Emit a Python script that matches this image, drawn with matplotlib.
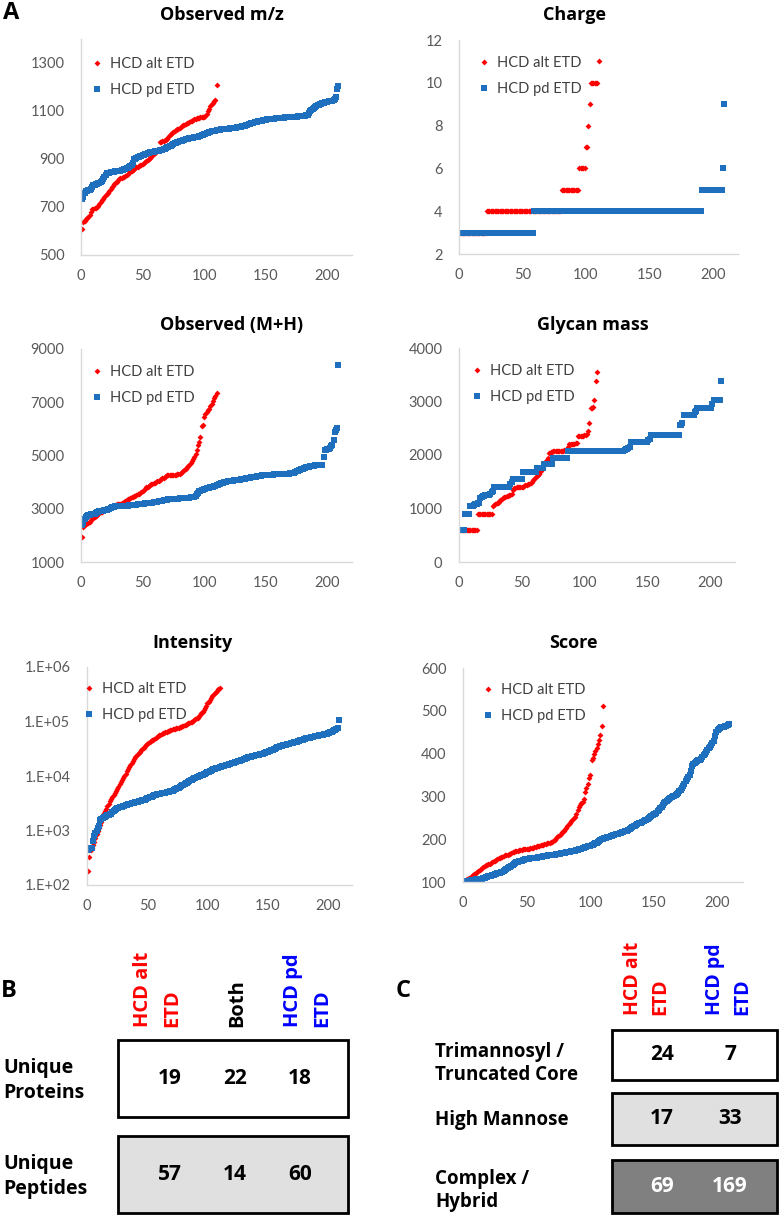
import matplotlib
matplotlib.use('Agg')
import matplotlib.pyplot as plt
import numpy as np
from matplotlib.patches import Rectangle
from matplotlib.ticker import FuncFormatter

plt.rcParams['font.family'] = ['Lato', 'DejaVu Sans']
BOLD_FONT = ['Open Sans', 'DejaVu Sans']

# ---- panel A data (sorted values, one point per identification) ----
mz_alt = [610, 638, 642, 648, 655, 660, 668, 680, 690, 693,
          695, 697, 700, 705, 712, 720, 728, 735, 740, 748,
          755, 760, 768, 775, 782, 788, 795, 800, 806, 812,
          816, 820, 822, 824, 826, 828, 832, 836, 842, 848,
          852, 855, 858, 862, 865, 868, 870, 873, 876, 880,
          884, 888, 892, 896, 900, 905, 910, 915, 920, 925,
          930, 936, 940, 970, 972, 974, 976, 978, 980, 985,
          993, 1000, 1005, 1010, 1014, 1018, 1021, 1024, 1027, 1030,
          1034, 1037, 1040, 1043, 1046, 1049, 1052, 1055, 1058, 1060,
          1063, 1066, 1068, 1070, 1071, 1072, 1073, 1074, 1075, 1076,
          1080, 1088, 1098, 1110, 1120, 1128, 1135, 1140, 1145, 1210]
mz_pd = [735, 742, 760, 765, 768, 770, 772, 775, 785, 790,
         792, 794, 796, 800, 802, 805, 808, 815, 825, 835,
         840, 842, 843, 844, 845, 846, 847, 848, 849, 850,
         851, 852, 853, 855, 857, 860, 862, 864, 867, 870,
         875, 882, 900, 902, 905, 907, 909, 911, 913, 916,
         918, 920, 922, 924, 926, 928, 929, 930, 931, 932,
         933, 934, 935, 936, 937, 938, 940, 942, 945, 948,
         950, 953, 956, 959, 962, 965, 967, 969, 971, 973,
         975, 977, 979, 981, 983, 984, 985, 986, 987, 988,
         989, 990, 991, 992, 993, 995, 997, 999, 1001, 1003,
         1005, 1007, 1009, 1011, 1013, 1015, 1016, 1017, 1018, 1019,
         1020, 1021, 1022, 1023, 1024, 1025, 1026, 1026, 1027, 1027,
         1028, 1028, 1029, 1029, 1030, 1031, 1032, 1033, 1034, 1035,
         1036, 1037, 1038, 1040, 1042, 1044, 1046, 1048, 1050, 1051,
         1053, 1054, 1056, 1057, 1058, 1059, 1060, 1062, 1063, 1064,
         1065, 1066, 1066, 1067, 1067, 1068, 1068, 1069, 1069, 1070,
         1070, 1071, 1071, 1072, 1072, 1073, 1073, 1074, 1074, 1075,
         1075, 1076, 1076, 1077, 1077, 1078, 1078, 1079, 1079, 1080,
         1080, 1081, 1082, 1083, 1092, 1098, 1104, 1108, 1112, 1116,
         1120, 1123, 1126, 1128, 1130, 1132, 1134, 1136, 1138, 1139,
         1140, 1141, 1142, 1143, 1144, 1148, 1160, 1190, 1205]

charge_alt = [3] * 21 + [4] * 59 + [5] * 14 + [6] * 5 + [7] * 2 + [8] + [9] + [10] * 6 + [11]
charge_pd = [3] * 58 + [4] * 133 + [5] * 16 + [6] + [9]

mh_alt = [1930, 2320, 2380, 2420, 2450, 2480, 2520, 2560, 2600, 2650,
          2700, 2730, 2760, 2800, 2830, 2860, 2890, 2920, 2950, 2980,
          3000, 3020, 3040, 3060, 3080, 3100, 3120, 3140, 3160, 3170,
          3180, 3190, 3200, 3230, 3260, 3290, 3320, 3350, 3380, 3410,
          3430, 3450, 3470, 3490, 3510, 3540, 3570, 3600, 3640, 3680,
          3720, 3760, 3800, 3830, 3860, 3890, 3920, 3940, 3960, 3980,
          4000, 4030, 4060, 4090, 4110, 4140, 4170, 4200, 4230, 4250,
          4260, 4270, 4270, 4270, 4270, 4270, 4280, 4290, 4300, 4320,
          4350, 4390, 4430, 4470, 4510, 4560, 4610, 4660, 4720, 4800,
          4880, 4960, 5060, 5200, 5400, 5500, 5700, 6100, 6150, 6450,
          6550, 6650, 6700, 6750, 6850, 6950, 7050, 7150, 7250, 7350]
mh_pd = [2400, 2450, 2600, 2700, 2730, 2760, 2780, 2790, 2800, 2810,
         2820, 2840, 2860, 2880, 2900, 2910, 2920, 2930, 2940, 2950,
         2960, 2980, 3000, 3030, 3060, 3070, 3080, 3090, 3095, 3100,
         3100, 3105, 3105, 3110, 3110, 3115, 3115, 3120, 3125, 3130,
         3135, 3140, 3145, 3150, 3155, 3160, 3165, 3170, 3175, 3180,
         3190, 3200, 3205, 3210, 3215, 3220, 3225, 3230, 3240, 3250,
         3260, 3270, 3280, 3290, 3300, 3300, 3310, 3320, 3330, 3340,
         3350, 3360, 3365, 3370, 3370, 3375, 3375, 3380, 3380, 3385,
         3385, 3390, 3390, 3395, 3400, 3400, 3410, 3420, 3430, 3440,
         3450, 3460, 3480, 3550, 3600, 3650, 3680, 3700, 3720, 3740,
         3760, 3770, 3780, 3790, 3800, 3810, 3820, 3840, 3860, 3880,
         3900, 3920, 3940, 3960, 3980, 4000, 4010, 4020, 4030, 4040,
         4050, 4055, 4060, 4065, 4070, 4075, 4080, 4085, 4095, 4105,
         4110, 4120, 4130, 4140, 4150, 4160, 4170, 4180, 4190, 4200,
         4205, 4210, 4215, 4220, 4230, 4240, 4250, 4255, 4260, 4265,
         4270, 4275, 4280, 4282, 4284, 4286, 4288, 4290, 4292, 4295,
         4297, 4300, 4302, 4304, 4306, 4308, 4310, 4315, 4320, 4330,
         4340, 4350, 4360, 4380, 4400, 4420, 4440, 4460, 4480, 4500,
         4520, 4540, 4560, 4570, 4580, 4590, 4600, 4610, 4620, 4630,
         4640, 4645, 4650, 4650, 4655, 4660, 4950, 5200, 5220, 5240,
         5260, 5300, 5340, 5380, 5600, 5900, 5950, 6050, 8400]

glycan_alt = ([590] * 14 + [900] * 12 + [1050, 1060, 1090]
              + [1100, 1110, 1120, 1150, 1180]
              + [1200, 1210, 1220, 1230, 1240, 1250, 1260, 1280]
              + [1350, 1380, 1390, 1400, 1400, 1400, 1400, 1400, 1410, 1420, 1430, 1440, 1450]
              + [1460, 1480, 1500, 1530, 1560, 1580]
              + [1600, 1620, 1650, 1700, 1750, 1800]
              + [1850, 1880, 1900, 1950]
              + [2030, 2050, 2060, 2070] + [2080] * 8 + [2090, 2090, 2100]
              + [2150, 2200, 2210, 2210, 2210, 2210, 2220, 2230]
              + [2350, 2360, 2360, 2360, 2360, 2370, 2380, 2400]
              + [2450, 2600, 2870, 2880, 2890, 3030, 3390, 3550])
glycan_pd = ([590] * 4 + [900] * 4
             + [1050, 1050, 1050, 1060, 1080, 1080, 1100, 1100]
             + [1200, 1220, 1230, 1240, 1250, 1250, 1250, 1260, 1280, 1300, 1320]
             + [1400] * 13 + [1450, 1500] + [1550] * 8 + [1690] * 11
             + [1750] * 6 + [1840] * 7 + [1940] * 12 + [2080] * 45
             + [2100, 2110, 2120, 2130, 2150] + [2240] * 14 + [2280, 2300]
             + [2370] * 23 + [2560, 2560, 2600] + [2750] * 9 + [2800, 2820]
             + [2880] * 12 + [2950] + [3030] * 6 + [3390])

intensity_alt = [180, 330, 430, 480, 540, 620, 720, 850, 980, 1100,
                 1250, 1450, 1700, 2100, 2300, 2500, 2800, 3100, 3500, 3800,
                 4100, 4400, 4800, 5200, 5800, 6400, 7000, 7700, 8400, 9100,
                 10000, 11000, 12200, 13500, 14800, 16000, 17500, 19000, 20500, 22000,
                 23500, 25000, 26500, 28000, 29500, 31000, 33000, 35000, 37000, 39000,
                 40500, 42000, 43500, 45000, 46500, 48000, 50000, 52000, 54000, 56000,
                 57500, 59000, 60500, 62000, 63500, 65000, 66500, 68000, 69500, 71000,
                 72000, 73000, 74000, 75000, 76000, 77000, 78500, 80000, 82000, 84000,
                 86000, 88000, 90000, 92000, 94000, 96000, 99000, 102000, 106000, 110000,
                 114000, 118000, 125000, 133000, 142000, 152000, 165000, 180000, 195000, 215000,
                 232000, 250000, 270000, 290000, 310000, 330000, 350000, 370000, 390000, 410000]
intensity_pd = [430, 450, 470, 480, 650, 800, 900, 1000, 1100, 1200,
                1550, 1650, 1700, 1750, 1800, 1850, 1900, 1950, 2000, 2050,
                2150, 2250, 2350, 2450, 2550, 2600, 2650, 2700, 2750, 2800,
                2850, 2900, 2950, 3000, 3050, 3100, 3150, 3200, 3250, 3300,
                3350, 3400, 3450, 3500, 3550, 3600, 3650, 3700, 3800, 3900,
                4000, 4100, 4150, 4200, 4300, 4400, 4500, 4600, 4650, 4700,
                4750, 4800, 4850, 4900, 4950, 5000, 5050, 5100, 5200, 5300,
                5400, 5550, 5700, 5850, 6000, 6150, 6300, 6500, 6700, 6900,
                7100, 7300, 7550, 7800, 8050, 8300, 8550, 8800, 9000, 9250,
                9500, 9700, 9900, 10100, 10300, 10500, 10800, 11100, 11400, 11700,
                12000, 12300, 12600, 13000, 13250, 13500, 13750, 14000, 14250, 14500,
                14750, 15000, 15200, 15400, 15600, 15800, 16100, 16400, 16700, 17000,
                17300, 17600, 17900, 18200, 18500, 18800, 19100, 19500, 19900, 20300,
                20700, 21100, 21500, 21900, 22300, 22600, 22900, 23200, 23500, 23800,
                24000, 24300, 24600, 24900, 25200, 25600, 26200, 26800, 27400, 28000,
                28600, 29200, 29800, 30400, 31000, 31800, 32600, 33400, 34200, 35000,
                35500, 36000, 36500, 37000, 37500, 38000, 38500, 39000, 39500, 40000,
                40600, 41300, 42000, 42800, 43600, 44400, 45200, 46000, 46700, 47400,
                48100, 48800, 49500, 50200, 50800, 51400, 52000, 52600, 53200, 53800,
                54400, 55000, 55600, 56200, 56800, 57400, 58000, 59000, 60000, 61000,
                62000, 63500, 65000, 67000, 68500, 70000, 72000, 75000, 105000]

score_alt = [102, 104, 106, 108, 110, 112, 114, 116, 119, 122,
             124, 126, 129, 131, 133, 136, 137, 139, 140, 142,
             143, 145, 146, 148, 150, 151, 153, 155, 156, 158,
             159, 160, 162, 163, 164, 165, 166, 168, 169, 171,
             172, 172, 173, 174, 175, 175, 176, 176, 177, 177,
             178, 178, 179, 179, 180, 181, 182, 183, 184, 185,
             186, 186, 187, 188, 189, 190, 191, 192, 193, 194,
             196, 199, 202, 204, 207, 210, 213, 216, 219, 223,
             227, 231, 235, 238, 242, 246, 250, 253, 260, 268,
             276, 280, 284, 288, 295, 311, 320, 330, 342, 350,
             385, 390, 398, 405, 412, 422, 432, 444, 465, 511]
score_pd = [100, 101, 102, 103, 103, 104, 104, 105, 105, 106,
            106, 107, 107, 108, 108, 109, 110, 111, 112, 113,
            114, 115, 116, 117, 118, 119, 120, 121, 122, 123,
            124, 126, 128, 130, 132, 134, 136, 138, 140, 142,
            144, 146, 147, 148, 149, 150, 151, 152, 153, 153,
            154, 154, 155, 155, 156, 156, 157, 157, 158, 158,
            159, 159, 160, 160, 161, 161, 162, 162, 163, 163,
            164, 164, 165, 165, 166, 166, 167, 167, 168, 168,
            169, 169, 170, 171, 172, 172, 173, 173, 174, 175,
            176, 177, 178, 179, 180, 181, 182, 183, 184, 185,
            186, 187, 188, 190, 192, 194, 196, 198, 200, 201,
            202, 203, 204, 205, 206, 207, 208, 209, 210, 211,
            212, 213, 214, 215, 216, 217, 218, 219, 220, 222,
            224, 226, 228, 230, 232, 234, 236, 237, 238, 239,
            240, 242, 244, 246, 248, 250, 252, 254, 256, 258,
            260, 262, 265, 268, 272, 276, 280, 284, 287, 290,
            292, 294, 296, 298, 300, 302, 304, 306, 308, 312,
            316, 320, 325, 330, 335, 340, 345, 350, 360, 370,
            375, 378, 380, 382, 384, 386, 388, 392, 396, 400,
            404, 408, 412, 416, 420, 425, 430, 440, 450, 455,
            457, 459, 461, 462, 463, 464, 465, 466, 468]

series_names = ['HCD alt ETD', 'HCD pd ETD']

# ---- panels B and C ----
b_cols = ['HCD alt\nETD', 'Both', 'HCD pd\nETD']
b_rows = ['Unique\nProteins', 'Unique\nPeptides']
b_vals = [[19, 22, 18], [57, 14, 60]]

c_cols = ['HCD alt\nETD', 'HCD pd\nETD']
c_rows = ['Trimannosyl /\nTruncated Core', 'High Mannose', 'Complex /\nHybrid']
c_vals = [[24, 7], [17, 33], [69, 169]]

RED = '#ff0000'
BLUE = '#1f6fbf'
GRID = '#d9d9d9'
TICK = '#595959'
HDR_COLORS = {'HCD alt\nETD': '#ff0000', 'Both': '#000000', 'HCD pd\nETD': '#0000ff'}

W, H = 780, 1215
fig = plt.figure(figsize=(W / 100, H / 100), dpi=100)

ov = fig.add_axes([0, 0, 1, 1])
ov.set_xlim(0, W)
ov.set_ylim(H, 0)
ov.axis('off')


def px_rect(l, t, r, b):
    return [l / W, 1 - b / H, (r - l) / W, (b - t) / H]


panels = [
    dict(title='Observed m/z', alt=mz_alt, pd=mz_pd, box=(81, 39, 352, 255),
         ylim=(500, 1400), yticks=[500, 700, 900, 1100, 1300], title_xy=(222, 15), leg=(91, 57)),
    dict(title='Charge', alt=charge_alt, pd=charge_pd, box=(459, 40, 738, 254),
         ylim=(2, 12), yticks=[2, 4, 6, 8, 10, 12], title_xy=(575, 15), leg=(478, 56)),
    dict(title='Observed (M+H)', alt=mh_alt, pd=mh_pd, box=(81, 349, 352, 562),
         ylim=(1000, 9000), yticks=[1000, 3000, 5000, 7000, 9000], title_xy=(232, 325), leg=(91, 365)),
    dict(title='Glycan mass', alt=glycan_alt, pd=glycan_pd, box=(459, 348, 735, 562),
         ylim=(0, 4000), yticks=[0, 1000, 2000, 3000, 4000], title_xy=(593, 325), leg=(471, 364)),
    dict(title='Intensity', alt=intensity_alt, pd=intensity_pd, box=(87, 667, 352, 885),
         ylim=(1e2, 1e6), yticks=[1e2, 1e3, 1e4, 1e5, 1e6], title_xy=(193, 643), leg=(83, 682), log=True),
    dict(title='Score', alt=score_alt, pd=score_pd, box=(463, 668, 743, 882),
         ylim=(100, 600), yticks=[100, 200, 300, 400, 500, 600], title_xy=(573, 643), leg=(482, 683)),
]

for p in panels:
    ax = fig.add_axes(px_rect(*p['box']))
    xa = np.arange(1, len(p['alt']) + 1)
    xp = np.arange(1, len(p['pd']) + 1)
    ax.plot(xa, p['alt'], linestyle='none', marker='D', markersize=3.0,
            color=RED, markeredgewidth=0, label=series_names[0])
    ax.plot(xp, p['pd'], linestyle='none', marker='s', markersize=4.8,
            color=BLUE, markeredgewidth=0, label=series_names[1])
    if p.get('log'):
        ax.set_yscale('log')
        ax.yaxis.set_major_formatter(FuncFormatter(lambda v, _: '1.E+%02d' % round(np.log10(v))))
        ax.minorticks_off()
    ax.set_xlim(0, 220)
    ax.set_ylim(*p['ylim'])
    ax.set_yticks(p['yticks'])
    ax.set_xticks([0, 50, 100, 150, 200])
    for s in ('top', 'right'):
        ax.spines[s].set_visible(False)
    for s in ('left', 'bottom'):
        ax.spines[s].set_color(GRID)
        ax.spines[s].set_linewidth(1)
    ax.tick_params(length=0, labelsize=10.5, labelcolor=TICK)
    ax.tick_params(axis='y', pad=12)
    ax.tick_params(axis='x', pad=10)
    ax.patch.set_alpha(0)
    lx, ly = p['leg']
    ax.legend(loc='upper left', bbox_to_anchor=(lx / W, 1 - ly / H), bbox_transform=fig.transFigure,
              frameon=False, fontsize=10.5, handlelength=0.8, handletextpad=0.5,
              labelspacing=0.8, borderpad=0, borderaxespad=0, labelcolor='#404040')
    tx, ty = p['title_xy']
    ov.text(tx, ty, p['title'], ha='center', va='center', fontsize=13, fontweight='bold',
            family=BOLD_FONT)

ov.text(3, 13, 'A', ha='left', va='center', fontsize=17, fontweight='bold', family=BOLD_FONT)
ov.text(1, 991, 'B', ha='left', va='center', fontsize=17, fontweight='bold', family=BOLD_FONT)
ov.text(396, 991, 'C', ha='left', va='center', fontsize=17, fontweight='bold', family=BOLD_FONT)

# panel B table
b_hdr_x = [(143, 172), (237,), (293, 322)]
b_num_x = [170, 235, 300]
b_box = [(1040, 1117, '#ffffff'), (1136, 1213, '#e0e0e0')]
for name, xs in zip(b_cols, b_hdr_x):
    for line, x in zip(name.split('\n'), xs):
        ov.text(x, 1027, line, rotation=90, ha='center', va='bottom', fontsize=14.5,
                fontweight='bold', color=HDR_COLORS[name], family=BOLD_FONT)
for (t, b, fc), label, vals in zip(b_box, b_rows, b_vals):
    ov.add_patch(Rectangle((118, t), 230, b - t, facecolor=fc, edgecolor='black', linewidth=2))
    ov.text(3, (t + b) / 2 + 2, label, ha='left', va='center', fontsize=14, fontweight='bold',
            linespacing=1.3, family=BOLD_FONT)
    for x, v in zip(b_num_x, vals):
        ov.text(x, (t + b) / 2, str(v), ha='center', va='center', fontsize=15, fontweight='bold',
                family=BOLD_FONT)

# panel C table
c_hdr_x = [(633, 660), (715, 742)]
c_num_x = [662, 730]
c_lab_dy = [9, 1, 4]
c_box = [(1030, 1080, '#ffffff', 'black'), (1093, 1145, '#e0e0e0', 'black'),
         (1160, 1213, '#808080', 'white')]
for name, xs in zip(c_cols, c_hdr_x):
    for line, x in zip(name.split('\n'), xs):
        ov.text(x, 1015, line, rotation=90, ha='center', va='bottom', fontsize=14,
                fontweight='bold', color=HDR_COLORS[name], family=BOLD_FONT)
for (t, b, fc, tc), label, vals, dy in zip(c_box, c_rows, c_vals, c_lab_dy):
    ov.add_patch(Rectangle((612, t), 165, b - t, facecolor=fc, edgecolor='black', linewidth=2))
    ov.text(435, (t + b) / 2 + dy, label, ha='left', va='center', fontsize=13.5, fontweight='bold',
            linespacing=1.2, family=BOLD_FONT)
    for x, v in zip(c_num_x, vals):
        ov.text(x, (t + b) / 2, str(v), ha='center', va='center', fontsize=15, fontweight='bold',
                color=tc, family=BOLD_FONT)

fig.savefig('out.png', dpi=100)
